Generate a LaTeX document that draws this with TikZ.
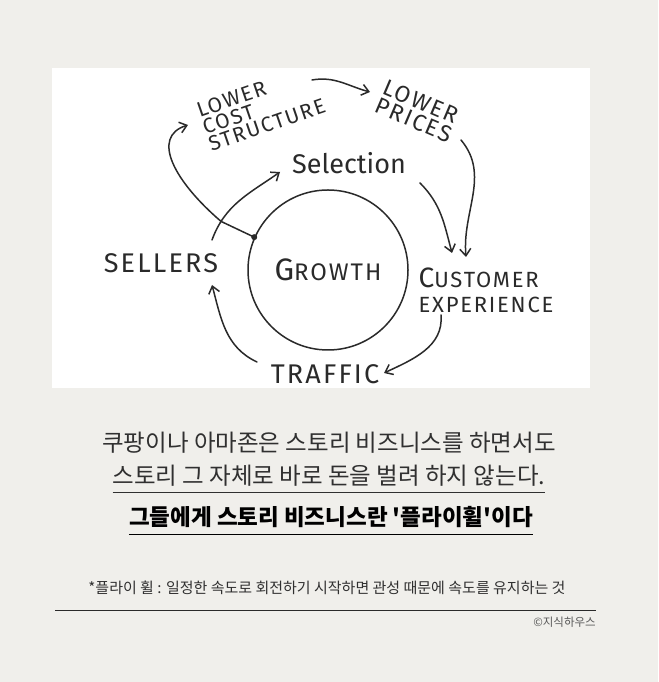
\documentclass[tikz,border=0pt]{standalone}
\usepackage{fontspec}
\setmainfont{Fira Sans}
\newfontfamily\handfont[LetterSpace=8]{Fira Sans}
\newfontfamily\krfont{Noto Sans CJK KR}
\usetikzlibrary{arrows.meta,positioning}
\definecolor{paper}{HTML}{F0EFEB}
\definecolor{ink}{HTML}{2A2A2A}
\definecolor{txt}{HTML}{303030}

\begin{document}
\begin{tikzpicture}[x=1pt, y=1pt, >={Straight Barb[length=7pt,width=11pt]},
    hand/.style={font=\handfont\fontsize{#1}{#1}\selectfont, text=ink, inner sep=1pt},
    flow/.style={->, draw=ink, line width=1.5pt, line cap=round},
    kr/.style={font=\krfont\fontsize{#1}{#1}\selectfont, text=txt, inner sep=0pt}]
    \fill [paper] (0,0) rectangle (658,682);
    \useasboundingbox (0,0) rectangle (658,682);
    \fill [white] (52,294) rectangle (590,614);

    % the flywheel
    \node [circle, draw=ink, line width=1.5pt, minimum size=160pt, inner sep=0pt, hand=24] (growth) at (328,412)
        {{\fontsize{31}{31}\selectfont G}ROWTH};
    \node [font=\fontsize{27}{27}\selectfont, text=ink, inner sep=1pt] (selection) at (349,519) {Selection};
    \node [hand=27] (sellers) at (161,419) {SELLERS};
    \node [hand=22, align=left] (custexp) at (486,392) {{\fontsize{28}{28}\selectfont C}USTOMER\\[3pt]EXPERIENCE};
    \node [hand=27] (traffic) at (325,308) {TRAFFIC};
    \node [font=\handfont\fontsize{21}{18}\selectfont, text=ink, inner sep=1pt, align=left, rotate=19] (lowcost) at (261,574)
        {LOWER\\COST\\STRUCTURE};
    \node [font=\handfont\fontsize{23}{20}\selectfont, text=ink, inner sep=1pt, align=left, rotate=-23] (lowprice) at (418,571)
        {LOWER\\PRICES};

    \draw [flow] ([shift={(51,23)}]sellers.center) to[out=70,in=215] coordinate[pos=0.2] (fork)
        ([shift={(-69,-9)}]selection.center);
    \draw [ink, line width=1.5pt] (growth.156) -- (fork);
    \fill [ink] (growth.156) circle (3pt);
    \draw [flow] (fork) .. controls (175,500) and (150,545) .. ([shift={(-73,-17)}]lowcost.center);
    \draw [flow] ([shift={(51,28)}]lowcost.center) to[out=10,in=165] ([shift={(-48,19)}]lowprice.center);
    \draw [flow] ([shift={(43,-29)}]lowprice.center) to[out=-50,in=95] ([shift={(-20,33)}]custexp.center);
    \draw [flow] ([shift={(71,-20)}]selection.center) to[out=-45,in=105] ([shift={(-34,37)}]custexp.center);
    \draw [flow] ([shift={(-45,-25)}]custexp.center) to[out=-85,in=25] ([shift={(59,1)}]traffic.center);
    \draw [flow] ([shift={(-68,12)}]traffic.center) to[out=155,in=-75] ([shift={(51,-22)}]sellers.center);

    % caption
    \node [kr=23.5] (line1) at (329,239) {쿠팡이나 아마존은 스토리 비즈니스를 하면서도};
    \node [kr=23.5] (line2) at (329,206) {스토리 그 자체로 바로 돈을 벌려 하지 않는다.};
    \draw [txt, line width=0.8pt] ([yshift=-8pt]line2.base west) -- ([yshift=-8pt]line2.base east);
    \node [kr=22.5, font=\krfont\bfseries\fontsize{22.5}{22.5}\selectfont, text=black] (line3) at (331,165)
        {그들에게 스토리 비즈니스란 '플라이휠'이다};
    \draw [black, line width=1.6pt] ([yshift=-9pt]line3.base west) -- ([yshift=-9pt]line3.base east);

    \node [kr=15] (note) at (327,94) {*플라이 휠 : 일정한 속도로 회전하기 시작하면 관성 때문에 속도를 유지하는 것};
    \draw [ink, line width=0.8pt] (55,72) -- (596,72);
    \node [kr=11.5, text=black!65, anchor=east] (credit) at (596,60) {©지식하우스};
\end{tikzpicture}
\end{document}
